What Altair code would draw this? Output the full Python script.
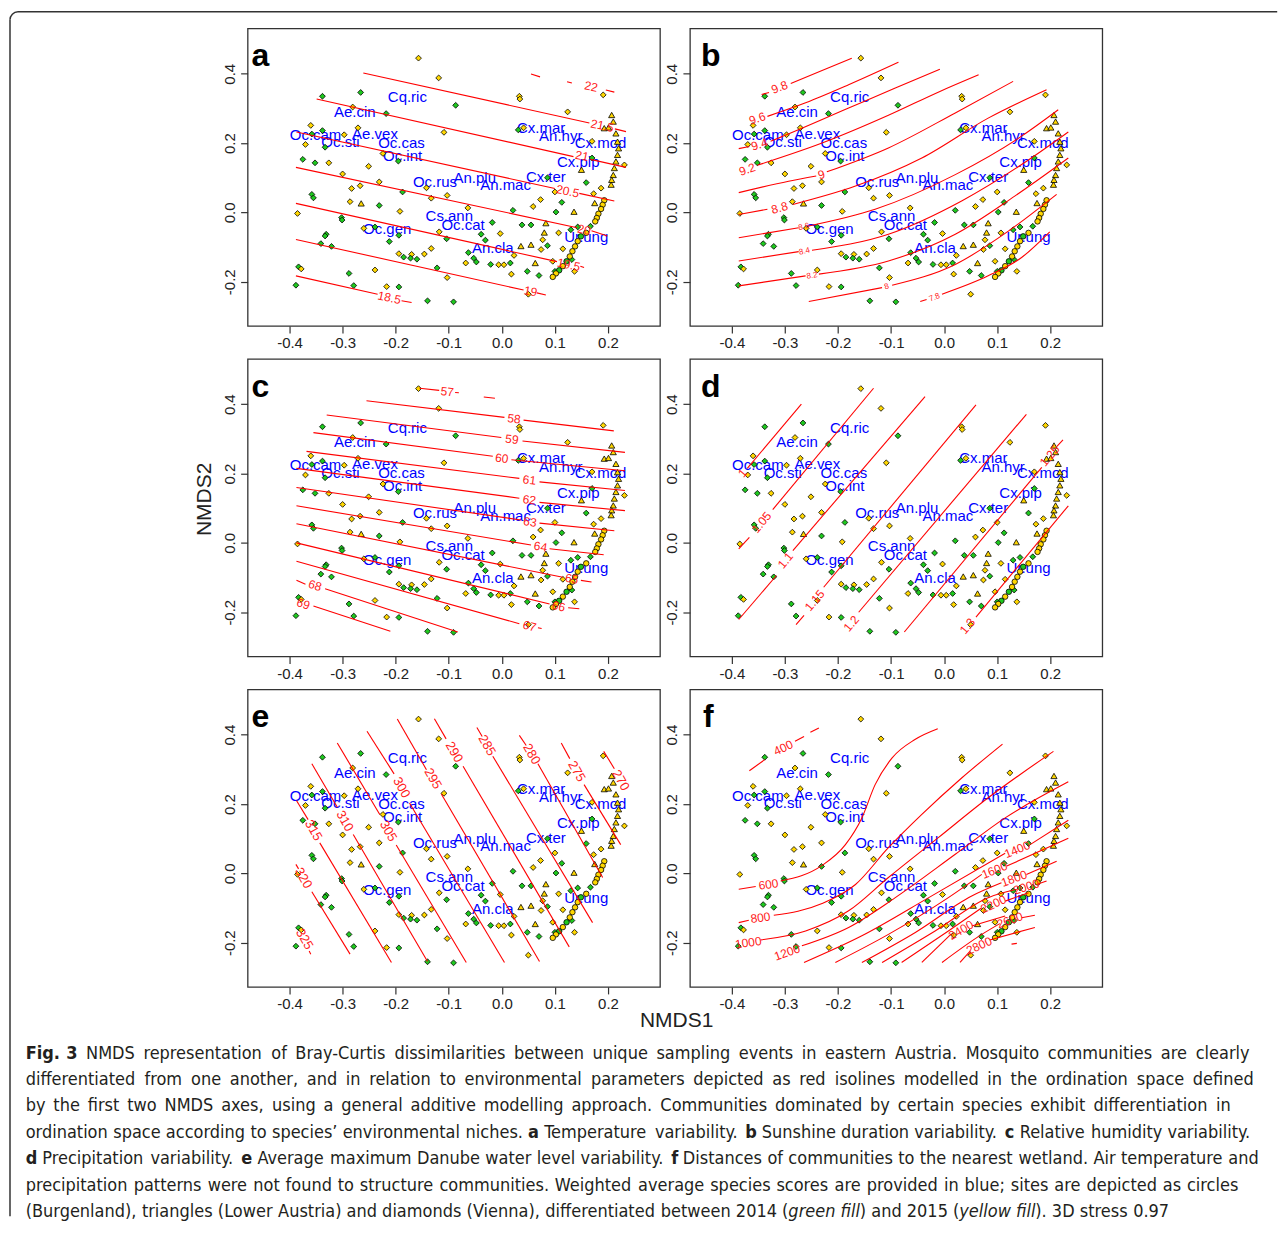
import altair as alt
import pandas as pd

# ---------------- data -----------------
XDOM = [-0.479, 0.298]
YDOM = [-0.3275, 0.5307]
XTICKS = [-0.4, -0.3, -0.2, -0.1, 0.0, 0.1, 0.2]
YTICKS = [-0.2, 0.0, 0.2, 0.4]

# sites: x, y, year-fill (G=2014, Y=2015), shape (D diamond, T triangle, C circle)
SITE_X = [-0.157,-0.119,-0.338,-0.266,-0.087,-0.281,-0.218,-0.360,-0.338,-0.358,-0.271,-0.297,-0.370,-0.333,-0.109,
          -0.375,-0.352,-0.326,-0.224,-0.195,-0.251,-0.300,-0.231,-0.267,-0.283,-0.187,-0.142,-0.133,-0.103,-0.358,
          -0.355,-0.286,-0.265,-0.231,-0.192,-0.385,-0.064,-0.302,-0.301,-0.260,-0.239,-0.194,-0.331,-0.333,-0.341,
          -0.321,-0.212,-0.118,-0.104,-0.018,-0.039,-0.031,-0.003,-0.063,-0.133,-0.146,-0.194,-0.185,-0.170,-0.172,
          -0.160,-0.053,-0.048,-0.068,-0.021,-0.006,0.004,0.016,0.023,-0.122,-0.103,-0.239,-0.288,-0.279,-0.217,
          -0.194,-0.140,-0.091,-0.388,-0.383,-0.378,0.021,0.038,0.055,0.059,0.073,0.100,0.113,0.102,0.136,
          0.083,0.080,0.077,0.086,0.107,0.036,0.055,0.074,0.115,0.063,0.048,0.070,0.018,0.050,0.130,
          0.143,0.167,0.159,0.173,0.187,0.175,0.191,0.124,0.033,0.034,0.031,0.041,0.170,0.170,0.150,
          0.231,0.100,0.096,0.132,0.137,0.086,
          0.207,0.210,0.193,0.201,0.215,0.218,0.220,0.218,0.215,0.212,0.210,0.207,0.206,
          0.193,0.190,0.187,0.182,0.179,0.176,0.159,0.149,0.143,0.138,0.133,0.128,0.122,0.115,0.108,0.102,0.096]
SITE_Y = [0.445,0.388,0.335,0.346,0.309,0.304,0.285,0.251,0.236,0.226,0.244,0.224,0.196,0.188,0.231,
          0.153,0.143,0.143,0.170,0.148,0.133,0.111,0.088,0.077,0.069,0.059,0.071,0.041,0.049,0.052,
          0.042,0.031,0.026,0.020,0.003,-0.003,0.013,-0.015,-0.022,-0.046,-0.042,-0.066,-0.063,-0.068,-0.090,
          -0.098,-0.084,-0.056,-0.076,-0.029,-0.063,-0.080,-0.061,-0.116,-0.104,-0.120,-0.119,-0.129,-0.121,-0.132,
          -0.135,-0.132,-0.143,-0.146,-0.150,-0.151,-0.151,-0.146,-0.124,-0.160,-0.188,-0.166,-0.176,-0.211,-0.214,
          -0.215,-0.255,-0.258,-0.210,-0.157,-0.163,0.006,-0.036,-0.036,0.017,0.037,0.059,0.029,0.001,0.002,
          -0.031,-0.058,-0.079,-0.096,-0.059,-0.097,-0.093,-0.107,-0.105,-0.146,-0.170,-0.182,-0.178,-0.236,-0.050,
          -0.042,-0.040,0.086,0.054,0.070,0.027,0.339,0.290,0.335,0.327,0.238,0.244,0.205,0.157,0.123,
          0.137,-0.170,-0.141,-0.136,-0.170,0.100,
          0.281,0.262,0.243,0.245,0.228,0.204,0.185,0.166,0.147,0.128,0.108,0.094,0.080,
          0.035,0.022,0.010,-0.004,-0.016,-0.026,-0.059,-0.069,-0.083,-0.098,-0.112,-0.127,-0.141,-0.155,-0.167,-0.176,-0.186]
SITE_YEAR = ("YYGGGYGYGGYYYGY" "GGYYGYYYYYGYYYG" "GYYGYYYGGYGGGGG" "GGYGGGGYGYYYGYG" "GGGYGYYGYGYYGGY"
             "GGGGGYGGGYYYGGY" "YYYGYYYYYYGGYYG" "GGGYYYYYYYGYYGY" "YGYGYG"
             "YYYYYYYYYYYYY" "YYYYYYYGYYYYGYGYY")
SITE_SHAPE = ("DDDDDDDDDDDDDDD" "DDDDDDDDDDDDDDD" "DDTDDDDDDDDDDDD" "DDDDDDDDDDDDDDD" "DDDDDDDDDDDDDDD"
              "DDDDDDDDDDDDDDT" "TTDDDTTDDTDDDDD" "DDDDDTDDDDDDDDT" "DDDDDD"
              "TTTTTTTTTTTTT" "CCCCCCCCCCCCCCCCC")

# species scores (weighted averages)
SPECIES = ["Cq.ric","Ae.cin","Oc.cam","Ae.vex","Oc.sti","Oc.cas","Oc.int","Oc.rus","An.plu","An.mac",
           "Cx.mar","An.hyr","Cx.mod","Cx.pip","Cx.ter","Cs.ann","Oc.cat","Oc.gen","An.cla","Ur.ung"]
SPEC_X = [-0.178,-0.277,-0.351,-0.239,-0.304,-0.189,-0.187,-0.126,-0.051,0.007,
          0.074,0.111,0.186,0.144,0.083,-0.099,-0.073,-0.216,-0.017,0.159]
SPEC_Y = [0.332,0.290,0.224,0.227,0.203,0.201,0.164,0.087,0.100,0.078,
          0.244,0.220,0.201,0.145,0.102,-0.010,-0.035,-0.049,-0.102,-0.071]

# isolines: list of polyline segments (x, y) per panel; labels (x, y, text, angle[, size])
ISO_A = [
    [(0.055,0.399),(0.072,0.391)], [(0.123,0.377),(0.132,0.373)], [(0.196,0.353),(0.212,0.347)],
    [(-0.261,0.402),(0.165,0.258)], [(0.213,0.241),(0.234,0.233)],
    [(-0.349,0.327),(0.135,0.161)], [(0.167,0.153),(0.234,0.130)],
    [(-0.387,0.232),(0.100,0.069)], [(0.146,0.055),(0.212,0.033)],
    [(-0.388,0.130),(0.142,-0.044)], [(0.169,-0.053),(0.199,-0.068)],
    [(-0.388,0.026),(0.104,-0.142)], [(0.148,-0.155),(0.155,-0.159)],
    [(-0.388,-0.078),(0.041,-0.224)], [(0.066,-0.232),(0.083,-0.238)],
    [(-0.388,-0.183),(-0.234,-0.236)], [(-0.189,-0.255),(-0.170,-0.260)],
]
LAB_A = [(0.168,0.363,"22",12),(0.189,0.250,"21.5",12),(0.151,0.163,"21",12),(0.124,0.061,"20.5",12),
         (0.155,-0.050,"20",12),(0.126,-0.151,"19.5",12),(0.054,-0.228,"19",12),(-0.212,-0.246,"18.5",12)]

ISO_B = [
    [(-0.344,0.340),(-0.330,0.346)],
    [(-0.289,0.372),(-0.230,0.409),(-0.174,0.445)],
    [(-0.333,0.277),(-0.261,0.316),(-0.180,0.368),(-0.086,0.433)],
    [(-0.387,0.184),(-0.367,0.190)],
    [(-0.327,0.205),(-0.311,0.215),(-0.180,0.301),(-0.092,0.359),(-0.008,0.413)],
    [(-0.352,0.136),(-0.230,0.200),(-0.105,0.280),(-0.008,0.349),(0.065,0.397)],
    [(-0.387,0.057),(-0.293,0.090),(-0.241,0.105)],
    [(-0.221,0.117),(-0.105,0.186),(0.021,0.287),(0.130,0.378)],
    [(-0.387,-0.006),(-0.333,0.009)],
    [(-0.285,0.023),(-0.167,0.076),(-0.042,0.157),(0.083,0.272),(0.193,0.354)],
    [(-0.387,-0.073),(-0.274,-0.044)],
    [(-0.255,-0.039),(-0.130,0.009),(0.021,0.109),(0.146,0.220),(0.215,0.296)],
    [(-0.387,-0.140),(-0.274,-0.113)],
    [(-0.249,-0.109),(-0.105,-0.063),(0.033,0.033),(0.146,0.138),(0.234,0.232)],
    [(-0.387,-0.212),(-0.261,-0.183)],
    [(-0.236,-0.178),(-0.105,-0.140),(0.021,-0.063),(0.133,0.047),(0.234,0.157)],
    [(-0.255,-0.257),(-0.117,-0.217)],
    [(-0.098,-0.210),(0.021,-0.150),(0.121,-0.054),(0.212,0.052)],
    [(-0.045,-0.257),(-0.033,-0.251)],
    [(-0.004,-0.236),(0.083,-0.183),(0.146,-0.130),(0.199,-0.056)],
]
LAB_B = [(-0.310,0.361,"9.8",339,12),(-0.352,0.271,"9.6",341,12),(-0.348,0.196,"9.4",342,12),
         (-0.371,0.124,"9.2",341,12),(-0.231,0.109,"9",342,12),(-0.310,0.013,"8.8",345,12),
         (-0.264,-0.042,"8.6",347,8),(-0.263,-0.113,"8.4",348,8),(-0.249,-0.183,"8.2",350,8),
         (-0.108,-0.215,"8",342,8),(-0.018,-0.246,"7.8",339,8)]

ISO_C = [
    [(-0.155,0.446),(-0.118,0.440)], [(-0.088,0.434),(-0.081,0.433)], [(-0.034,0.421),(-0.013,0.417)],
    [(-0.255,0.410),(0.005,0.362)], [(0.041,0.354),(0.211,0.323)],
    [(-0.330,0.369),(-0.001,0.304)], [(0.039,0.294),(0.232,0.261)],
    [(-0.355,0.318),(-0.017,0.250)], [(0.018,0.240),(0.232,0.208)],
    [(-0.368,0.264),(0.033,0.186)], [(0.071,0.176),(0.232,0.151)],
    [(-0.387,0.215),(0.033,0.129)], [(0.071,0.117),(0.232,0.093)],
    [(-0.387,0.160),(0.036,0.066)], [(0.071,0.057),(0.212,0.035)],
    [(-0.387,0.107),(0.055,-0.006)], [(0.090,-0.017),(0.192,-0.034)],
    [(-0.387,0.055),(0.115,-0.099)], [(0.149,-0.108),(0.169,-0.113)],
    [(-0.387,0.000),(0.090,-0.176)], [(0.125,-0.187),(0.146,-0.190)],
    [(-0.387,-0.053),(0.033,-0.233)], [(0.068,-0.245),(0.075,-0.247)],
    [(-0.387,-0.108),(-0.370,-0.119)], [(-0.333,-0.132),(-0.083,-0.257)],
    [(-0.355,-0.182),(-0.210,-0.255)],
]
LAB_C = [(-0.103,0.436,"57",6),(0.023,0.358,"58",7),(0.019,0.299,"59",7),(0.000,0.244,"60",7),
         (0.052,0.181,"61",7),(0.052,0.124,"62",8),(0.053,0.060,"63",8),(0.073,-0.011,"64",9),
         (0.132,-0.104,"65",11),(0.107,-0.183,"66",13),(0.052,-0.240,"67",15),(-0.352,-0.123,"68",18),
         (-0.374,-0.176,"69",18)]

ISO_D = [
    [(-0.371,0.215),(-0.269,0.400)],
    [(-0.387,-0.017),(-0.367,0.016)], [(-0.323,0.096),(-0.133,0.446)],
    [(-0.387,-0.221),(-0.316,-0.094)], [(-0.285,-0.022),(-0.036,0.422)],
    [(-0.279,-0.236),(-0.264,-0.209)], [(-0.227,-0.128),(0.060,0.398)],
    [(-0.161,-0.200),(0.155,0.371)],
    [(-0.075,-0.257),(0.184,0.218)], [(0.212,0.278),(0.224,0.297)],
    [(0.060,-0.214),(0.234,0.107)],
]
LAB_D = [(-0.380,0.201,"1",310),(-0.344,0.059,"1.05",310),(-0.299,-0.051,"1.1",310),
         (-0.244,-0.166,"1.15",310),(-0.175,-0.233,"1.2",310),(0.199,0.251,"1.25",310),
         (0.044,-0.240,"1.3",310)]

ISO_E = [
    [(0.192,0.352),(0.212,0.302)],
    [(0.112,0.376),(0.128,0.331)], [(0.155,0.256),(0.224,0.083)],
    [(0.033,0.398),(0.046,0.369)], [(0.068,0.316),(0.190,-0.012)],
    [(-0.047,0.421),(-0.037,0.395)], [(-0.017,0.338),(0.171,-0.142)],
    [(-0.127,0.446),(-0.105,0.388)], [(-0.073,0.309),(0.127,-0.212)],
    [(-0.197,0.445),(-0.142,0.299)], [(-0.114,0.229),(0.071,-0.254)],
    [(-0.254,0.410),(-0.203,0.287)], [(-0.174,0.203),(0.005,-0.257)],
    [(-0.310,0.376),(-0.230,0.170)], [(-0.199,0.082),(-0.067,-0.257)],
    [(-0.358,0.316),(-0.310,0.191)], [(-0.280,0.112),(-0.140,-0.254)],
    [(-0.387,0.210),(-0.365,0.155)], [(-0.343,0.088),(-0.208,-0.257)],
    [(-0.388,0.026),(-0.383,0.013)], [(-0.358,-0.053),(-0.286,-0.233)],
    [(-0.363,-0.224),(-0.360,-0.233)],
]
LAB_E = [(0.224,0.268,"270",60),(0.141,0.294,"275",60),(0.056,0.344,"280",60),(-0.028,0.369,"285",60),
         (-0.090,0.350,"290",60),(-0.130,0.273,"295",60),(-0.189,0.247,"300",60),(-0.214,0.122,"305",60),
         (-0.296,0.151,"310",60),(-0.355,0.124,"315",60),(-0.374,-0.014,"320",60),(-0.372,-0.190,"325",60)]

ISO_F = [
    [(-0.367,0.296),(-0.338,0.328)], [(-0.281,0.381),(-0.264,0.395)], [(-0.252,0.407),(-0.236,0.419)],
    [(-0.387,-0.046),(-0.355,-0.038)],
    [(-0.308,-0.022),(-0.230,0.023),(-0.186,0.083),(-0.155,0.160),(-0.130,0.256),(-0.098,0.333),(-0.055,0.386),(-0.012,0.417)],
    [(-0.387,-0.142),(-0.368,-0.135)],
    [(-0.321,-0.121),(-0.230,-0.087),(-0.167,-0.032),(-0.105,0.074),(-0.042,0.170),(0.033,0.275),(0.110,0.373)],
    [(-0.346,-0.192),(-0.261,-0.166),(-0.180,-0.108),(-0.105,-0.012),(-0.011,0.103),(0.083,0.218),(0.206,0.352)],
    [(-0.268,-0.209),(-0.180,-0.156),(-0.092,-0.070),(0.021,0.055),(0.115,0.160),(0.234,0.264)],
    [(-0.264,-0.257),(-0.155,-0.180),(-0.029,-0.070),(0.115,0.058)], [(0.162,0.083),(0.234,0.153)],
    [(-0.205,-0.257),(-0.105,-0.176),(0.008,-0.070),(0.071,-0.003)], [(0.118,0.021),(0.234,0.101)],
    [(-0.155,-0.257),(-0.055,-0.171),(0.052,-0.065),(0.108,-0.027)], [(0.155,-0.003),(0.212,0.035)],
    [(-0.117,-0.257),(-0.017,-0.166),(0.083,-0.070),(0.137,-0.046)], [(0.174,-0.032),(0.193,-0.022)],
    [(-0.080,-0.257),(0.008,-0.166),(0.071,-0.099)], [(0.115,-0.080),(0.159,-0.056)],
    [(-0.042,-0.257),(0.014,-0.174)], [(0.052,-0.152),(0.115,-0.123)],
    [(-0.004,-0.257),(0.071,-0.176),(0.105,-0.145)], [(0.146,-0.128),(0.171,-0.121)],
    [(0.030,-0.257),(0.049,-0.224)], [(0.086,-0.192),(0.171,-0.156)],
    [(0.127,-0.204),(0.137,-0.202)],
]
LAB_F = [(-0.303,0.362,"400",335),(-0.331,-0.032,"600",352),(-0.346,-0.128,"800",352),
         (-0.369,-0.200,"1000",352),(-0.296,-0.228,"1200",340),(0.138,0.069,"1400",338),
         (0.095,0.009,"1600",338),(0.132,-0.015,"1800",340),(0.155,-0.039,"2000",342),
         (0.093,-0.089,"2200",335),(0.032,-0.164,"2400",330),(0.124,-0.135,"2600",340),
         (0.066,-0.209,"2800",335)]

# caption lines: (page y, x start, x end, justified, runs of (text, weight, style))
N, B, I = ("normal", "normal"), ("bold", "normal"), ("normal", "italic")
CAPTION = [
    (1055, 25, 1251, True, [("Fig. 3", *B), (" NMDS representation of Bray-Curtis dissimilarities between unique sampling events in eastern Austria. Mosquito communities are clearly", *N)]),
    (1081.5, 25, 1255, True, [("differentiated from one another, and in relation to environmental parameters depicted as red isolines modelled in the ordination space defined", *N)]),
    (1108, 25, 1232, True, [("by the first two NMDS axes, using a general additive modelling approach. Communities dominated by certain species exhibit differentiation in", *N)]),
    (1134.5, 25, 1254, True, [("ordination space according to species\u2019 environmental niches. ", *N), ("a", *B),
                              (" Temperature variability. ", *N), ("b", *B), (" Sunshine duration variability. ", *N),
                              ("c", *B), (" Relative humidity variability.", *N)]),
    (1161, 25, 1260, True, [("d", *B), (" Precipitation variability. ", *N), ("e", *B),
                            (" Average maximum Danube water level variability. ", *N), ("f", *B),
                            (" Distances of communities to the nearest wetland. Air temperature and", *N)]),
    (1187.5, 25, 1240, True, [("precipitation patterns were not found to structure communities. Weighted average species scores are provided in blue; sites are depicted as circles", *N)]),
    (1214, 25, 1180, False, [("(Burgenland), triangles (Lower Austria) and diamonds (Vienna), differentiated between 2014 (", *N),
                             ("green fill", *I), (") and 2015 (", *N), ("yellow fill", *I), ("). 3D stress 0.97", *N)]),
]

# ---------------- layout constants -----------------
W, H = 413, 298
A0X, A0Y = 247.3, 28.3          # page position of panel a plot area
FONT = "Liberation Sans"
CAPFONT = "DejaVu Sans Condensed, Liberation Sans Narrow, Liberation Sans"
CAPSIZE = 18

FILLS = {"G": "#1ec81e", "Y": "#ffd700"}
SHAPES = {"D": "diamond", "T": "triangle-up", "C": "circle"}
SIZES = {"D": 34, "T": 38, "C": 30}

n = min(len(SITE_X), len(SITE_Y), len(SITE_YEAR), len(SITE_SHAPE))
sites = pd.DataFrame({
    "x": SITE_X[:n], "y": SITE_Y[:n],
    "fill": [FILLS[c] for c in SITE_YEAR[:n]],
    "shape": [SHAPES[s] for s in SITE_SHAPE[:n]],
    "size": [SIZES[s] for s in SITE_SHAPE[:n]],
})
species = pd.DataFrame({"x": SPEC_X, "y": SPEC_Y, "name": SPECIES})

xs = alt.Scale(domain=XDOM, nice=False, zero=False)
ys = alt.Scale(domain=YDOM, nice=False, zero=False)
LBL = "replace(format(datum.value, '.1f'), '\u2212', '-')"
xax = alt.Axis(values=XTICKS, labelExpr=LBL, tickSize=7, tickColor="#333333", tickWidth=1.2,
               domain=False, grid=False, labelFont=FONT, labelFontSize=15, labelColor="#222222",
               labelPadding=3, labelFlush=False, labelOverlap=False, title=None)
yax = alt.Axis(values=YTICKS, labelExpr=LBL, tickSize=7, tickColor="#333333", tickWidth=1.2,
               domain=False, grid=False, labelFont=FONT, labelFontSize=15, labelColor="#222222",
               labelAngle=270, labelAlign="center", labelBaseline="bottom",
               labelPadding=3, labelFlush=False, labelOverlap=False, title=None)


def X(f="x"):
    return alt.X(f"{f}:Q", scale=xs, axis=xax, title=None)


def Y(f="y"):
    return alt.Y(f"{f}:Q", scale=ys, axis=yax, title=None)


def panel(letter, iso, labs, lab_size, letter_dx, interp="linear", extra=None):
    rows = []
    for i, seg in enumerate(iso):
        for j, (x, y) in enumerate(seg):
            rows.append({"seg": i, "ord": j, "x": x, "y": y})
    segdf = pd.DataFrame(rows)
    lrows = []
    for lab in labs:
        x, y, t, ang = lab[:4]
        fs = lab[4] if len(lab) > 4 else lab_size
        lrows.append({"x": x, "y": y, "t": t, "ang": ang % 360, "fs": fs})
    labdf = pd.DataFrame(lrows)

    spec_layer = alt.Chart(species).mark_text(font=FONT, fontSize=15, color="#0000ff",
                                              align="center", baseline="middle").encode(
        x=X(), y=Y(), text="name:N")
    pts = alt.Chart(sites).mark_point(filled=True, stroke="black", strokeWidth=0.8, opacity=1).encode(
        x=X(), y=Y(),
        fill=alt.Fill("fill:N", scale=None),
        shape=alt.Shape("shape:N", scale=None),
        size=alt.Size("size:Q", scale=None))
    lines = alt.Chart(segdf).mark_line(color="#ff0000", strokeWidth=1.1, interpolate=interp).encode(
        x=X(), y=Y(), detail="seg:N", order="ord:Q")
    labels = alt.Chart(labdf).mark_text(font=FONT, color="#ff2020", align="center", baseline="middle").encode(
        x=X(), y=Y(), text="t:N",
        angle=alt.Angle("ang:Q", scale=None),
        size=alt.Size("fs:Q", scale=None))
    let = alt.Chart(pd.DataFrame({"t": [letter]})).mark_text(
        font=FONT, fontSize=32, fontWeight="bold", color="black", align="left", baseline="alphabetic").encode(
        text="t:N", x=alt.value(letter_dx), y=alt.value(38))
    layers = [spec_layer, pts, lines, labels, let]
    if extra:
        layers += extra
    return alt.layer(*layers).properties(width=W, height=H)


def rx(px):
    return px - A0X


def ry(py):
    return py - A0Y


# approximate advance widths (em) of DejaVu Sans Condensed, used to set the caption words
_CW = {" ": 0.286, "a": 0.551, "b": 0.571, "c": 0.495, "d": 0.571, "e": 0.554, "f": 0.317, "g": 0.571,
       "h": 0.570, "i": 0.250, "j": 0.250, "k": 0.521, "l": 0.250, "m": 0.876, "n": 0.570, "o": 0.551,
       "p": 0.571, "q": 0.571, "r": 0.370, "s": 0.469, "t": 0.353, "u": 0.570, "v": 0.533, "w": 0.736,
       "x": 0.533, "y": 0.533, "z": 0.472, ".": 0.286, ",": 0.286, ";": 0.303, ":": 0.303, "(": 0.351,
       ")": 0.351, "-": 0.325, "\u2019": 0.286, "A": 0.616, "B": 0.617, "C": 0.628, "D": 0.693, "E": 0.568,
       "F": 0.518, "I": 0.266, "L": 0.502, "M": 0.777, "N": 0.673, "R": 0.626, "S": 0.572, "T": 0.550,
       "V": 0.616, "W": 0.890}


def char_w(c, bold=False):
    w = _CW.get(c, 0.572 if c.isdigit() else 0.6)
    return w * (1.1 if bold else 1.0)


def layout_line(runs, x0, x1, justify, fs):
    toks = []
    pending = False
    for text, wt, st in runs:
        parts = text.split(" ")
        for k, p in enumerate(parts):
            if k > 0:
                pending = True
            if p == "":
                continue
            toks.append((p, wt, st, pending))
            pending = False
    widths = [sum(char_w(c, wt == "bold") for c in p) for p, wt, st, _ in toks]
    nsp = sum(1 for t in toks if t[3])
    natural = sum(widths) + nsp * char_w(" ")
    span = x1 - x0
    if natural * fs > span:          # shrink a line that would not fit
        fs = span / natural
    gap = fs * char_w(" ")
    if justify and nsp:
        gap = (span - fs * sum(widths)) / nsp
    out, cur = [], x0
    for (p, wt, st, spc), w in zip(toks, widths):
        if spc:
            cur += gap
        out.append((cur, p, wt, st, fs))
        cur += w * fs
    return out


one = pd.DataFrame({"v": [0]})
extra = []
# rounded frame around the whole figure (top and left edges visible)
R = 8
BX, BY = rx(9.3), ry(11.7)
extra.append(alt.Chart(one).mark_rule(color="#333333", strokeWidth=1.5).encode(
    x=alt.value(BX + R), x2=alt.value(rx(1278.5)), y=alt.value(BY)))
extra.append(alt.Chart(one).mark_rule(color="#333333", strokeWidth=1.5).encode(
    x=alt.value(BX), y=alt.value(BY + R), y2=alt.value(ry(1218))))
extra.append(alt.Chart(one).mark_arc(fill="#333333", theta=4.7124, theta2=6.2832,
                                     radius=R + 0.75, radius2=R - 0.75).encode(
    x=alt.value(BX + R), y=alt.value(BY + R)))
# axis titles
extra.append(alt.Chart(pd.DataFrame({"t": ["NMDS1"]})).mark_text(
    font=FONT, fontSize=21, color="#222222", align="center", baseline="middle").encode(
    text="t:N", x=alt.value(rx(677)), y=alt.value(ry(1022))))
extra.append(alt.Chart(pd.DataFrame({"t": ["NMDS2"]})).mark_text(
    font=FONT, fontSize=21, color="#222222", align="center", baseline="middle", angle=270).encode(
    text="t:N", x=alt.value(rx(205)), y=alt.value(ry(500))))
# caption, word by word (justified lines like the reference)
for (py, x0, x1, just, runs) in CAPTION:
    for (px, word, wt, st, fs) in layout_line(runs, x0, x1, just, CAPSIZE):
        extra.append(alt.Chart(pd.DataFrame({"t": [word]})).mark_text(
            font=CAPFONT, fontSize=round(fs, 2), color="#231f20", align="left", baseline="middle",
            fontWeight=wt, fontStyle=st).encode(
            text="t:N", x=alt.value(round(rx(px), 1)), y=alt.value(ry(py))))

pa = panel("a", ISO_A, LAB_A, 12, 4, extra=extra)
pb = panel("b", ISO_B, LAB_B, 12, 11, interp="monotone")
pc = panel("c", ISO_C, LAB_C, 12, 4)
pd_ = panel("d", ISO_D, LAB_D, 12, 11)
pe = panel("e", ISO_E, LAB_E, 13, 4)
pf = panel("f", ISO_F, LAB_F, 12, 13, interp="monotone")

chart = alt.concat(pa, pb, pc, pd_, pe, pf, columns=2,
                   spacing={"row": 33, "column": 30}, bounds="flush").properties(
    padding={"left": 0, "top": 1.5, "right": 0, "bottom": 0},
    background="white",
).configure_view(stroke="#333333", strokeWidth=1.3)

chart.save("out.html", embed_options={"renderer": "svg", "actions": False})
